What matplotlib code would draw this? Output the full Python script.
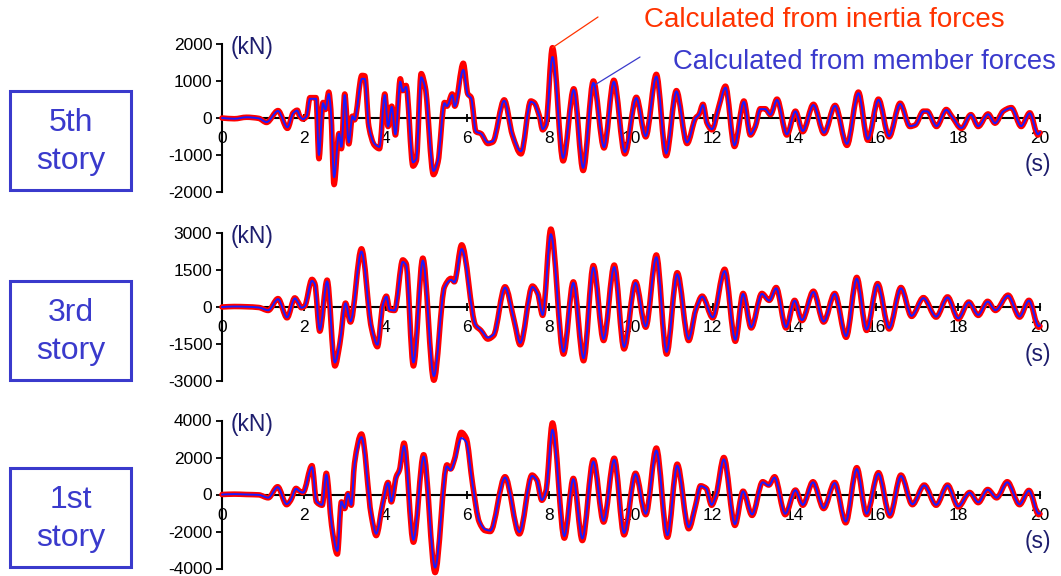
import numpy as np
import matplotlib
matplotlib.use('Agg')
import matplotlib.pyplot as plt
from matplotlib import font_manager
from matplotlib.path import Path
from matplotlib.patches import PathPatch, Rectangle

# story shear force time histories (kN)
t5 = [0, 0.3, 0.6, 0.9, 1.09, 1.37, 1.6, 1.74, 1.84, 1.9,
      1.98, 2.07, 2.15, 2.3, 2.37, 2.47, 2.53, 2.61, 2.66, 2.74,
      2.86, 2.92, 3.0, 3.1, 3.19, 3.24, 3.42, 3.49, 3.59, 3.73,
      3.85, 3.98, 4.06, 4.15, 4.24, 4.36, 4.42, 4.5, 4.67, 4.75,
      4.87, 4.97, 5.17, 5.28, 5.44, 5.5, 5.63, 5.69, 5.9, 6.01,
      6.09, 6.21, 6.33, 6.5, 6.62, 6.9, 7.1, 7.31, 7.55, 7.63,
      7.76, 7.84, 7.92, 8.08, 8.34, 8.6, 8.83, 9.08, 9.34, 9.58,
      9.85, 10.13, 10.36, 10.62, 10.86, 11.11, 11.37, 11.58, 11.66, 11.76,
      11.86, 11.98, 12.15, 12.31, 12.53, 12.76, 12.92, 13.04, 13.16, 13.28,
      13.41, 13.57, 13.81, 14.02, 14.2, 14.46, 14.72, 14.99, 15.28, 15.56,
      15.79, 16.05, 16.31, 16.58, 16.82, 16.95, 17.15, 17.24, 17.47, 17.71,
      17.84, 18.08, 18.31, 18.49, 18.73, 18.9, 19.1, 19.3, 19.54, 19.75,
      19.95, 20.0]
inertia5 = [0, -20, 20, -10, -120, 200, -280, 140, 210, 50,
            -30, 50, 550, 550, -1100, 420, 230, 700, 230, -1800,
            -420, -830, 650, -700, 50, -50, 1150, 1140, -230, -740,
            -830, 650, -230, 320, -460, 1060, 740, 880, -1300, -1160,
            1200, 830, -1530, -1200, 420, 320, 650, 320, 1480, 650,
            560, -370, -420, -690, -650, 490, -460, -970, 460, 420,
            50, -320, -190, 1900, -1160, 790, -1420, 1000, -810, 1020,
            -970, 560, -510, 1180, -1020, 740, -690, 0, 90, 370,
            -140, -320, 320, 860, -770, 460, -460, -230, 250, 250,
            90, 510, -460, 185, -370, 370, -420, 340, -740, 700,
            -600, 510, -510, 400, -230, -190, 185, 185, -230, 230,
            50, -280, 90, -230, 110, -140, 185, 280, -230, 140,
            -460, -400]
member5 = [0, -20, 20, -10, -110, 190, -250, 130, 200, 50,
           -30, 50, 520, 520, -1000, 400, 230, 650, 230, -1600,
           -420, -780, 620, -660, 50, -50, 1060, 1060, -230, -700,
           -780, 620, -230, 300, -440, 980, 720, 840, -1200, -1100,
           1100, 800, -1430, -1150, 400, 320, 620, 320, 1300, 620,
           540, -370, -420, -660, -630, 470, -450, -900, 440, 400,
           50, -300, -190, 1650, -1080, 760, -1350, 950, -790, 980,
           -920, 540, -490, 1120, -960, 720, -660, 0, 90, 350,
           -140, -300, 300, 820, -740, 440, -440, -230, 240, 240,
           90, 490, -440, 180, -350, 350, -400, 330, -700, 670,
           -570, 490, -490, 380, -220, -190, 180, 180, -220, 220,
           50, -270, 90, -220, 100, -140, 180, 270, -220, 130,
           -440, -380]

t3 = [0, 0.3, 0.6, 0.9, 1.13, 1.37, 1.59, 1.78, 1.86, 1.94,
      2.02, 2.2, 2.27, 2.39, 2.57, 2.76, 2.88, 3.02, 3.14, 3.41,
      3.65, 3.8, 3.93, 4.02, 4.1, 4.22, 4.42, 4.5, 4.68, 4.91,
      5.18, 5.44, 5.6, 5.68, 5.86, 6.2, 6.33, 6.5, 6.64, 6.92,
      7.15, 7.29, 7.59, 7.72, 7.84, 8.04, 8.35, 8.59, 8.84, 9.08,
      9.33, 9.59, 9.83, 10.11, 10.36, 10.62, 10.87, 11.13, 11.41, 11.58,
      11.74, 12.0, 12.29, 12.55, 12.74, 12.94, 13.2, 13.38, 13.55, 13.79,
      14.0, 14.18, 14.46, 14.71, 14.98, 15.26, 15.52, 15.76, 16.03, 16.31,
      16.6, 16.86, 17.15, 17.46, 17.74, 18.0, 18.26, 18.49, 18.72, 18.91,
      19.22, 19.5, 19.73, 19.97, 20.0]
inertia3 = [0, 20, 10, -20, -140, 340, -440, 370, 200, -30,
            30, 1120, 950, -980, 1090, -2390, -1500, 160, -610, 2360,
            -820, -1610, 70, 440, -110, -140, 1910, 1770, -2390, 1980,
            -2970, 820, 1160, 1020, 2520, -750, -950, -1300, -1160, 820,
            -610, -1530, 850, 550, -340, 3160, -1910, 1020, -2180, 1680,
            -1360, 1700, -1700, 1020, -820, 2110, -1910, 1390, -1360, -140,
            440, -440, 1530, -1390, 550, -850, 550, 270, 790, -850,
            270, -550, 640, -610, 550, -1230, 1200, -950, 950, -890,
            790, -380, 380, -410, 410, -480, 200, -340, 230, -140,
            480, -410, 270, -820, -780]
member3 = [0, 20, 10, -20, -130, 320, -420, 350, 190, -30,
           30, 1060, 920, -930, 1040, -2250, -1450, 150, -580, 2250,
           -800, -1530, 70, 420, -110, -140, 1830, 1700, -2250, 1880,
           -2800, 800, 1100, 1000, 2350, -730, -930, -1240, -1120, 790,
           -590, -1460, 810, 530, -320, 2950, -1820, 980, -2080, 1600,
           -1300, 1620, -1620, 980, -790, 2020, -1820, 1330, -1300, -140,
           420, -420, 1460, -1330, 530, -820, 530, 260, 760, -820,
           260, -530, 610, -590, 530, -1180, 1150, -910, 910, -850,
           760, -360, 360, -390, 390, -460, 190, -320, 220, -130,
           460, -390, 260, -780, -740]

t1 = [0, 0.3, 0.6, 0.9, 1.13, 1.36, 1.58, 1.68, 1.81, 1.9,
      1.98, 2.2, 2.31, 2.45, 2.55, 2.68, 2.82, 2.92, 3.0, 3.08,
      3.16, 3.24, 3.41, 3.65, 3.77, 3.93, 4.06, 4.14, 4.26, 4.34,
      4.45, 4.68, 4.93, 5.21, 5.5, 5.59, 5.68, 5.85, 5.97, 6.13,
      6.29, 6.43, 6.56, 6.92, 7.27, 7.58, 7.7, 7.82, 7.92, 8.08,
      8.37, 8.59, 8.81, 9.08, 9.33, 9.59, 9.83, 10.11, 10.36, 10.62,
      10.89, 11.13, 11.41, 11.58, 11.7, 11.84, 11.97, 12.08, 12.27, 12.54,
      12.74, 12.96, 13.22, 13.37, 13.51, 13.77, 14.02, 14.2, 14.45, 14.71,
      14.98, 15.25, 15.52, 15.76, 16.05, 16.33, 16.6, 16.88, 17.17, 17.46,
      17.74, 18.0, 18.28, 18.49, 18.72, 18.94, 19.2, 19.5, 19.73, 19.97,
      20.0]
inertia1 = [0, 20, 0, -20, -180, 420, -550, -310, 330, 180,
            110, 1560, -400, -580, 1150, -1670, -3220, -400, -760, 50,
            -580, 1690, 3270, -1130, -2220, -490, 650, -400, 960, 1330,
            2780, -2580, 2150, -4220, 1600, 1380, 1870, 3360, 3050, 510,
            -1490, -1950, -2000, 960, -2130, 1050, 780, -310, 180, 3870,
            -2360, 870, -2490, 1870, -1490, 1960, -2180, 1150, -1090, 2510,
            -2310, 1640, -1850, -580, 470, 330, -580, -40, 2000, -1670,
            180, -1130, 690, 510, 960, -1090, 240, -580, 690, -760,
            650, -1530, 1450, -1090, 1180, -1160, 1050, -550, 510, -580,
            510, -670, 110, -440, 270, -180, 690, -550, 220, -1090,
            -1050]
member1 = [0, 20, 0, -20, -170, 400, -520, -300, 310, 170,
           100, 1480, -380, -560, 1080, -1600, -3050, -390, -730, 50,
           -560, 1600, 3100, -1080, -2120, -470, 620, -380, 910, 1270,
           2620, -2450, 2050, -3950, 1520, 1320, 1780, 3050, 2850, 490,
           -1420, -1880, -1950, 920, -2030, 1000, 750, -300, 170, 3500,
           -2250, 830, -2380, 1780, -1420, 1880, -2080, 1100, -1040, 2380,
           -2200, 1560, -1760, -560, 450, 320, -560, -40, 1900, -1600,
           170, -1080, 660, 490, 920, -1040, 230, -560, 660, -730,
           620, -1460, 1380, -1040, 1130, -1110, 1000, -530, 490, -560,
           490, -640, 100, -420, 260, -170, 660, -530, 210, -1040,
           -1000]

story_names = ['5th\nstory', '3rd\nstory', '1st\nstory']
y_ticks = [[-2000, -1000, 0, 1000, 2000],
           [-3000, -1500, 0, 1500, 3000],
           [-4000, -2000, 0, 2000, 4000]]
x_ticks = list(range(0, 21, 2))

RED = '#ff0000'
BLUE = '#1a1aff'
BOX = '#3a3acc'
NAVY = '#1e1e6e'

names = {f.name for f in font_manager.fontManager.ttflist}
regular = 'Liberation Sans' if 'Liberation Sans' in names else 'DejaVu Sans'
plt.rcParams['font.family'] = [regular, 'DejaVu Sans']


def smooth_path(t, v):
    # monotone cubic through the read points, drawn as bezier segments
    t = np.asarray(t, float)
    v = np.asarray(v, float)
    h = np.diff(t)
    d = np.diff(v) / h
    m = np.zeros_like(v)
    m[0], m[-1] = d[0], d[-1]
    for k in range(1, len(v) - 1):
        if d[k - 1] * d[k] > 0:
            w1 = 2 * h[k] + h[k - 1]
            w2 = h[k] + 2 * h[k - 1]
            m[k] = (w1 + w2) / (w1 / d[k - 1] + w2 / d[k])
    verts = [(t[0], v[0])]
    codes = [Path.MOVETO]
    for k in range(len(h)):
        verts += [(t[k] + h[k] / 3, v[k] + m[k] * h[k] / 3),
                  (t[k + 1] - h[k] / 3, v[k + 1] - m[k + 1] * h[k] / 3),
                  (t[k + 1], v[k + 1])]
        codes += [Path.CURVE4] * 3
    return Path(verts, codes)


W, H = 1061, 576
fig = plt.figure(figsize=(W / 100, H / 100), dpi=100)

panels = [(t5, inertia5, member5), (t3, inertia3, member3), (t1, inertia1, member1)]
axis_bottom_px = [192, 381, 568.5]   # pixel row of the lowest y tick
box_top_px = [91, 281, 468]

axes = []
for i, (t, red, blue) in enumerate(panels):
    ax = fig.add_axes([222 / W, 1 - axis_bottom_px[i] / H, 818 / W, 148 / H])
    lim = y_ticks[i][-1]
    ax.set_xlim(0, 20)
    ax.set_ylim(-lim, lim)
    ax.patch.set_alpha(0)

    ax.add_patch(PathPatch(smooth_path(t, red), fill=False, edgecolor=RED,
                           lw=4.0, capstyle='round', joinstyle='round',
                           zorder=3, clip_on=False))
    ax.add_patch(PathPatch(smooth_path(t, blue), fill=False, edgecolor=BLUE,
                           lw=1.4, capstyle='round', joinstyle='round',
                           zorder=4, clip_on=False))

    for s in ['top', 'right']:
        ax.spines[s].set_visible(False)
    ax.spines['bottom'].set_position(('data', 0))
    ax.spines['bottom'].set_linewidth(1.5)
    ax.spines['left'].set_linewidth(1.5)

    ax.set_yticks(y_ticks[i], labels=[str(v) for v in y_ticks[i]])
    ax.set_xticks(x_ticks, labels=[str(v) for v in x_ticks])
    ax.tick_params(axis='y', direction='out', length=4.5, width=1.3, pad=2.5,
                   labelsize=12.5)
    ax.tick_params(axis='x', direction='inout', length=6, width=1.3, pad=6.5,
                   labelsize=12.5)

    ax.text(0.01, 0.975, '(kN)', transform=ax.transAxes, ha='left', va='center',
            fontsize=16.5, color=NAVY)
    ax.annotate('(s)', xy=(20, 0), xytext=(-2, -47), textcoords='offset pixels',
                ha='center', va='center', fontsize=16.5, color=NAVY)

    top = box_top_px[i]
    fig.add_artist(Rectangle((10 / W, 1 - (top + 99) / H), 121 / W, 99 / H,
                             transform=fig.transFigure, fill=False,
                             edgecolor=BOX, lw=2.2))
    fig.text(70.5 / W, 1 - (top + 51) / H, story_names[i], ha='center',
             va='center', ma='center', fontsize=23, color=BOX,
             linespacing=1.38)
    axes.append(ax)

# pointer lines and series labels
ax5 = axes[0]
ipk = int(np.argmax(inertia5))
ax5.annotate('', xy=(t5[ipk], inertia5[ipk]), xycoords='data',
             xytext=(598, H - 17), textcoords='figure pixels',
             arrowprops=dict(arrowstyle='-', color='#ff3300', lw=0.9,
                             shrinkA=0, shrinkB=0))
jpk = t5.index(9.08)
ax5.annotate('', xy=(t5[jpk], member5[jpk] - 80), xycoords='data',
             xytext=(640, H - 57), textcoords='figure pixels',
             arrowprops=dict(arrowstyle='-', color=BOX, lw=0.9,
                             shrinkA=0, shrinkB=0))
fig.text(644 / W, 1 - 20 / H, 'Calculated from inertia forces', ha='left',
         va='center', fontsize=20, color='#ff3300')
fig.text(673 / W, 1 - 62 / H, 'Calculated from member forces', ha='left',
         va='center', fontsize=19.8, color=BOX)

fig.savefig('out.png', dpi=100)
